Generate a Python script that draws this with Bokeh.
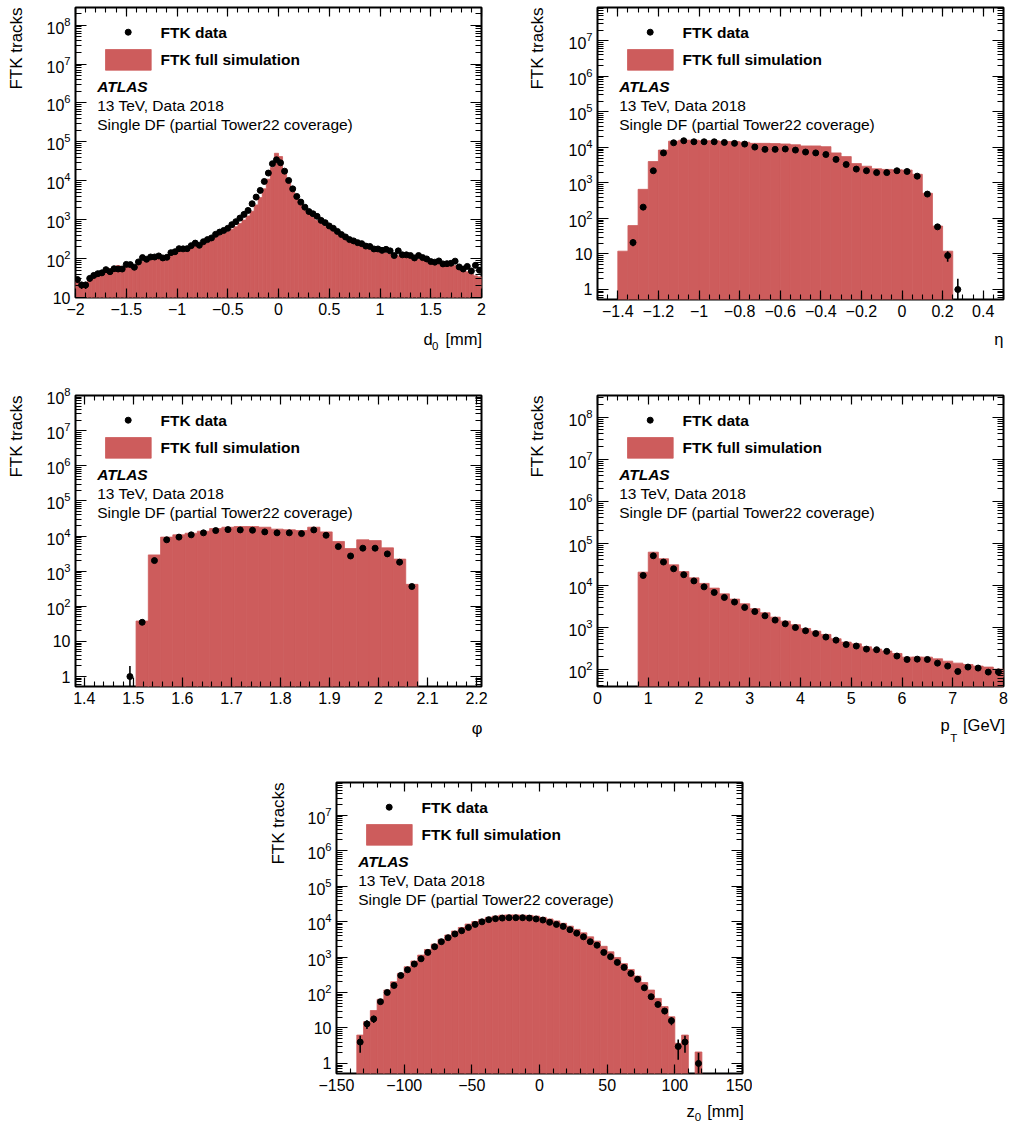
import math
import numpy as np
from bokeh.plotting import figure
from bokeh.models import (Range1d, FixedTicker, LinearAxis, LogAxis, Label,
                          LogTickFormatter, CustomJSTickFormatter, Spacer)
from bokeh.layouts import row, column
from bokeh.embed import file_html
from bokeh.resources import INLINE

FONT = "Liberation Sans"
SIM_COLOR = "#CD5C5C"

# ---------------- data ----------------
# d0 [mm]: 100 bins from -2 to 2
D0_LO, D0_W = -2.0, 0.04
D0_DATA = [29, 21, 21, 31, 37, 41, 43, 52, 46, 55,
           54, 54, 71, 70, 60, 82, 106, 96, 110, 110,
           117, 104, 108, 142, 150, 180, 178, 180, 215, 250,
           220, 272, 308, 340, 420, 480, 530, 600, 745, 890,
           1100, 1370, 1730, 2570, 3810, 5660, 9600, 15800, 27500, 34800,
           29000, 17700, 10200, 6200, 3960, 2830, 2100, 1620, 1420, 1220,
           960, 840, 690, 600, 500, 415, 360, 308, 285, 257,
           242, 210, 205, 177, 177, 163, 173, 158, 120, 158,
           125, 125, 120, 104, 120, 106, 98, 84, 81, 87,
           73, 74, 76, 86, 61, 54, 63, 48, 67, 50]
D0_SIM = [26, 22, 24, 30, 35, 38, 42, 48, 55, 62,
          66, 62, 64, 68, 67, 74, 86, 92, 100, 104,
          108, 106, 110, 128, 140, 160, 168, 175, 195, 215,
          215, 240, 265, 300, 350, 400, 440, 490, 570, 660,
          800, 980, 1250, 1650, 2400, 3700, 6200, 11000, 22000, 51000,
          42000, 20000, 9500, 5400, 3400, 2400, 1800, 1400, 1150, 950,
          800, 680, 580, 500, 430, 370, 320, 280, 250, 225,
          205, 190, 175, 165, 152, 148, 140, 138, 132, 118,
          125, 112, 108, 104, 95, 96, 88, 84, 78, 72,
          70, 68, 66, 66, 60, 52, 46, 40, 36, 34]

# eta: 40 bins from -1.5 to 0.5
ETA_LO, ETA_W = -1.5, 0.05
ETA_DATA = [0, 0, 0, 21, 208, 2200, 7000, 13500, 15400, 14400,
            14400, 14400, 13800, 13000, 12400, 10200, 8800, 8800, 9000, 8400,
            7400, 7000, 6300, 4600, 3300, 2450, 2200, 1950, 1950, 2200,
            2100, 1550, 485, 58, 9, 1, 0, 0, 0, 0]
ETA_SIM = [0, 0, 12, 63, 660, 4000, 8400, 15000, 16000, 16000,
           15400, 15400, 14700, 14700, 14000, 13000, 13000, 12800, 12500, 11900,
           11000, 11000, 10500, 7000, 5500, 3500, 2950, 2500, 2400, 2350,
           2300, 1750, 510, 61, 12, 0, 0, 0, 0, 0]

# phi: 33 bins of 0.025
PHI_LO, PHI_W = 1.3805, 0.025
PHI_DATA = [0, 0, 0, 0, 1, 35, 2000, 7800, 9300, 10800,
            12300, 14300, 15200, 14900, 14600, 13100, 12300, 12300, 11700, 14900,
            10500, 5000, 2700, 4500, 4500, 3100, 1800, 365, 0, 0,
            0, 0, 0]
PHI_SIM = [0, 0, 0, 0, 0, 38, 2900, 9300, 10800, 12000,
           13700, 16300, 17800, 18600, 18600, 17800, 15700, 15000, 14300, 17800,
           13100, 7000, 4400, 7800, 7400, 4600, 2200, 420, 0, 0,
           0, 0, 0]

# pT [GeV]: 40 bins from 0 to 8
PT_LO, PT_W = 0.0, 0.2
PT_DATA = [0, 0, 0, 0, 17000, 50000, 35500, 24500, 17700, 12600,
           9100, 6700, 5100, 3950, 2950, 2350, 1860, 1470, 1200, 980,
           820, 705, 580, 490, 385, 355, 300, 290, 265, 205,
           170, 173, 170, 139, 118, 88, 112, 106, 85, 86]
PT_SIM = [0, 0, 0, 0, 20400, 61000, 42500, 30500, 21000, 14900,
          11000, 8500, 6200, 4650, 3600, 2750, 2200, 1730, 1390, 1140,
          930, 800, 670, 530, 440, 400, 340, 300, 270, 236,
          193, 195, 193, 176, 155, 139, 129, 118, 112, 100]

# z0 [mm]: 60 bins from -150 to 150
Z0_LO, Z0_W = -150.0, 5.0
Z0_DATA = [0, 0, 0, 4, 13, 18, 55, 100, 158, 302,
           436, 633, 890, 1350, 1950, 2700, 3500, 4450, 5500, 6800,
           8300, 9800, 11300, 12000, 12500, 12800, 12800, 12800, 12500, 11800,
           11000, 9500, 8300, 7300, 5900, 4700, 3700, 2700, 2150, 1350,
           1020, 705, 510, 345, 235, 136, 76, 46, 30, 16,
           3, 4, 0, 1, 0, 0, 0, 0, 0, 0]
Z0_SIM = [0, 0, 0, 6.3, 15, 31, 64, 117, 200, 345,
          530, 770, 1130, 1630, 2300, 3150, 4150, 5400, 6800, 8500,
          10000, 11500, 13100, 14200, 15100, 15400, 15400, 15100, 14900, 14200,
          13100, 11800, 10400, 8900, 7400, 6000, 4800, 3700, 2800, 2000,
          1400, 970, 650, 445, 290, 190, 117, 68, 40, 20.7,
          3.7, 6.3, 0, 2.1, 0, 0, 0, 0, 0, 0]

D0_TICKS = [-2, -1.5, -1, -0.5, 0, 0.5, 1, 1.5, 2]
ETA_TICKS = [-1.4, -1.2, -1, -0.8, -0.6, -0.4, -0.2, 0, 0.2, 0.4]
PHI_TICKS = [1.4, 1.5, 1.6, 1.7, 1.8, 1.9, 2, 2.1, 2.2]
PT_TICKS = [0, 1, 2, 3, 4, 5, 6, 7, 8]
Z0_TICKS = [-150, -100, -50, 0, 50, 100, 150]

LEGEND_DATA = "FTK data"
LEGEND_SIM = "FTK full simulation"
ATLAS_TXT = "ATLAS"
INFO1 = "13 TeV, Data 2018"
INFO2 = "Single DF (partial Tower22 coverage)"
YTITLE = "FTK tracks"

FW = 406


def minor_list(lo, hi, step):
    n = int(round((hi - lo) / step))
    return [round(lo + i * step, 6) for i in range(n + 1)]


def log_ticks(ylo, yhi):
    majors, minors = [], []
    for e in range(-1, 10):
        base = 10.0 ** e
        if ylo <= base * 1.0000001 and base <= yhi:
            majors.append(base)
        for k in range(2, 10):
            v = k * base
            if ylo <= v <= yhi:
                minors.append(v)
    return majors, minors


def style_axis(ax, tin, min_in, show):
    ax.axis_line_color = None
    ax.major_tick_in = tin
    ax.major_tick_out = 0
    ax.minor_tick_in = min_in
    ax.minor_tick_out = 0
    ax.major_tick_line_color = "black"
    ax.minor_tick_line_color = "black"
    ax.major_tick_line_width = 1.2
    ax.minor_tick_line_width = 1.1
    ax.major_label_text_font = FONT
    if show:
        ax.major_label_text_font_size = "16px"
        ax.major_label_text_color = "black"
        ax.major_label_text_font_style = "normal"
    else:
        ax.major_label_text_font_size = "1px"
        ax.major_label_text_alpha = 0
        ax.major_label_standoff = 0
    ax.axis_label = None


LOOKUP_JS = """
for (let i = 0; i < xs.length; i++) {
  if (Math.abs(xs[i] - tick) < 1e-9 * (1 + Math.abs(tick))) { return labels[i]; }
}
return '';
"""


def title_axis(cls, xs, texts, size, standoff):
    ax = cls(ticker=FixedTicker(ticks=xs, minor_ticks=[]),
             formatter=CustomJSTickFormatter(args=dict(xs=xs, labels=texts), code=LOOKUP_JS))
    ax.axis_line_color = None
    ax.major_tick_line_color = None
    ax.minor_tick_line_color = None
    ax.major_tick_in = 0
    ax.major_tick_out = 0
    ax.minor_tick_in = 0
    ax.minor_tick_out = 0
    ax.major_label_standoff = standoff
    ax.major_label_text_font = FONT
    ax.major_label_text_font_size = size
    ax.major_label_text_color = "black"
    ax.axis_label = None
    return ax


def make_panel(lo, w, data, sim, xr, yr, fh, xticks, xminor, borders,
               main_parts, sub_parts, main_standoff, sub_standoff, ytitle_standoff):
    ml, mr, mt, mb = borders
    p = figure(x_range=Range1d(*xr), y_range=Range1d(*yr), y_axis_type="log",
               frame_width=FW, frame_height=fh,
               min_border_left=ml, min_border_right=mr,
               min_border_top=mt, min_border_bottom=mb,
               output_backend="svg", toolbar_location=None)
    p.background_fill_color = "white"
    p.border_fill_color = "white"
    p.outline_line_color = "black"
    p.outline_line_width = 2
    p.xgrid.visible = False
    p.ygrid.visible = False

    n = len(data)
    left = [lo + i * w for i in range(n)]
    right = [lo + (i + 1) * w for i in range(n)]
    centers = [lo + (i + 0.5) * w for i in range(n)]

    # simulation histogram
    sl = [left[i] for i in range(n) if sim[i] > 0]
    sr = [right[i] for i in range(n) if sim[i] > 0]
    st = [sim[i] for i in range(n) if sim[i] > 0]
    p.quad(left=sl, right=sr, top=st, bottom=1e-3, fill_color=SIM_COLOR,
           line_color=SIM_COLOR, line_width=0.8)

    # data points with Poisson errors
    dc = [centers[i] for i in range(n) if data[i] > 0]
    dv = [data[i] for i in range(n) if data[i] > 0]
    elo = [max(v - math.sqrt(v), 1e-3) for v in dv]
    ehi = [v + math.sqrt(v) for v in dv]
    p.segment(x0=dc, y0=elo, x1=dc, y1=ehi, line_color="black", line_width=1.6)
    p.scatter(x=dc, y=dv, size=6, color="black")

    # axes
    ymaj, ymin = log_ticks(yr[0], yr[1])
    xt = FixedTicker(ticks=xticks, minor_ticks=xminor)
    yt = FixedTicker(ticks=ymaj, minor_ticks=ymin)
    xa = p.xaxis[0]
    ya = p.yaxis[0]
    xa.ticker = xt
    ya.ticker = yt
    xa.formatter = CustomJSTickFormatter(code="return String(tick).replace('-', '\u2212');")
    ya.formatter = LogTickFormatter()
    ya.major_label_overrides = {1: "1", 10: "10"}
    style_axis(xa, 9, 5, True)
    style_axis(ya, 11, 6, True)
    xa.major_label_standoff = 5
    ya.major_label_standoff = 5
    top_ax = LinearAxis(ticker=xt)
    style_axis(top_ax, 9, 5, False)
    right_ax = LogAxis(ticker=yt)
    style_axis(right_ax, 11, 6, False)
    p.add_layout(top_ax, "above")
    p.add_layout(right_ax, "right")

    lx0, lx1 = xr
    ly0, ly1 = math.log10(yr[0]), math.log10(yr[1])

    def px(dx):
        return lx0 + dx / FW * (lx1 - lx0)

    def py(dy):
        return 10 ** (ly1 - dy / fh * (ly1 - ly0))

    # x-axis title (pieces centred at their positions)
    p.add_layout(title_axis(LinearAxis, [px(d) for d, _ in main_parts],
                            [t for _, t in main_parts], "16.5px", main_standoff), "below")
    if sub_parts:
        p.add_layout(title_axis(LinearAxis, [px(d) for d, _ in sub_parts],
                                [t for _, t in sub_parts], "11.5px", sub_standoff), "below")

    # y-axis title, its upper end at the top of the frame
    yta = title_axis(LogAxis, [py(41)], [YTITLE], "17px", ytitle_standoff)
    yta.major_label_orientation = "parallel"
    p.add_layout(yta, "left")

    # legend
    p.scatter(x=[px(52.7)], y=[py(24.7)], size=6, color="black")
    p.quad(left=[px(30)], right=[px(75.7)], top=[py(42)], bottom=[py(62.7)],
           fill_color=SIM_COLOR, line_color=SIM_COLOR, line_width=0.8)

    def lab(text, dx, dy, size, style="normal"):
        p.add_layout(Label(x=px(dx), y=py(dy), text=text, text_font=FONT,
                           text_font_size=size, text_font_style=style,
                           text_align="left", text_baseline="middle",
                           text_color="black"))

    lab(LEGEND_DATA, 85, 24.7, "15.5px", "bold")
    lab(LEGEND_SIM, 85, 52.3, "15.5px", "bold")
    lab(ATLAS_TXT, 21.7, 79.3, "15.5px", "bold italic")
    lab(INFO1, 21.7, 98, "15.5px")
    lab(INFO2, 21.7, 117, "15.5px")
    return p


p1 = make_panel(D0_LO, D0_W, D0_DATA, D0_SIM, (-2, 2), (10, 2.85e8), 290,
                D0_TICKS, minor_list(-2, 2, 0.1), (75, 37, 7, 73),
                [(352.5, "d"), (388.3, "[mm]")], [(359.7, "0")], 12, -9, 18)
p2 = make_panel(ETA_LO, ETA_W, ETA_DATA, ETA_SIM, (-1.5, 0.5), (0.523, 8.67e7), 292,
                ETA_TICKS, minor_list(-1.5, 0.5, 0.05), (79, 5, 7, 71),
                [(401.4, "\u03b7")], [], 10, 0, 19)
p3 = make_panel(PHI_LO, PHI_W, PHI_DATA, PHI_SIM, (1.382, 2.21), (0.52, 1e8), 291,
                PHI_TICKS, minor_list(1.38, 2.2, 0.02), (75, 37, 25, 62),
                [(401.7, "\u03c6")], [], 12, 0, 18)
p4 = make_panel(PT_LO, PT_W, PT_DATA, PT_SIM, (0, 8), (38.6, 3.28e8), 291,
                PT_TICKS, minor_list(0, 8, 0.2), (79, 5, 25, 62),
                [(347.5, "p"), (386.6, "[GeV]")], [(356.3, "T")], 9, -5, 19)
p5 = make_panel(Z0_LO, Z0_W, Z0_DATA, Z0_SIM, (-150, 150), (0.52, 8.3e7), 291,
                Z0_TICKS, minor_list(-150, 150, 10), (77, 10, 34, 53),
                [(354.0, "z"), (389.0, "[mm]")], [(361.5, "0")], 8, -10, 17)

layout = column(row(p1, p2), row(p3, p4), row(Spacer(width=259, height=10), p5))
open("out.html", "w").write(file_html(layout, INLINE))
